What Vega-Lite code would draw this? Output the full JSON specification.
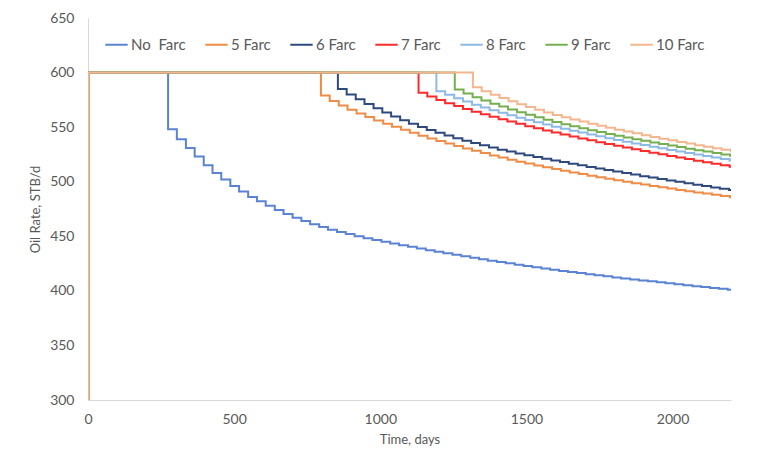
{
  "$schema": "https://vega.github.io/schema/vega-lite/v6.json",
  "width": 643,
  "height": 382,
  "autosize": {"type": "none"},
  "padding": {"left": 88, "top": 18, "right": 36, "bottom": 54},
  "background": "white",
  "config": {
    "view": {"stroke": null},
    "font": "Lato"
  },
  "data": {"values": [
    {"series":"No\u00a0 Farc","day":0,"rate":300},{"series":"No\u00a0 Farc","day":2,"rate":600},
    {"series":"No\u00a0 Farc","day":274,"rate":548},{"series":"No\u00a0 Farc","day":304,"rate":539},{"series":"No\u00a0 Farc","day":335,"rate":531},{"series":"No\u00a0 Farc","day":365,"rate":523},{"series":"No\u00a0 Farc","day":396,"rate":515},{"series":"No\u00a0 Farc","day":426,"rate":508},{"series":"No\u00a0 Farc","day":456,"rate":502},{"series":"No\u00a0 Farc","day":487,"rate":496},{"series":"No\u00a0 Farc","day":517,"rate":491},{"series":"No\u00a0 Farc","day":548,"rate":486},{"series":"No\u00a0 Farc","day":578,"rate":482},{"series":"No\u00a0 Farc","day":608,"rate":478},{"series":"No\u00a0 Farc","day":639,"rate":474},{"series":"No\u00a0 Farc","day":669,"rate":470.5},{"series":"No\u00a0 Farc","day":700,"rate":467},{"series":"No\u00a0 Farc","day":730,"rate":464},{"series":"No\u00a0 Farc","day":760,"rate":461},{"series":"No\u00a0 Farc","day":791,"rate":458.5},{"series":"No\u00a0 Farc","day":821,"rate":456},{"series":"No\u00a0 Farc","day":852,"rate":454},{"series":"No\u00a0 Farc","day":882,"rate":452},{"series":"No\u00a0 Farc","day":912,"rate":450},{"series":"No\u00a0 Farc","day":943,"rate":448.2},{"series":"No\u00a0 Farc","day":973,"rate":446.5},{"series":"No\u00a0 Farc","day":1004,"rate":445},{"series":"No\u00a0 Farc","day":1034,"rate":443.4},{"series":"No\u00a0 Farc","day":1064,"rate":441.8},{"series":"No\u00a0 Farc","day":1095,"rate":440.3},{"series":"No\u00a0 Farc","day":1125,"rate":438.8},{"series":"No\u00a0 Farc","day":1156,"rate":437.3},{"series":"No\u00a0 Farc","day":1186,"rate":435.8},{"series":"No\u00a0 Farc","day":1216,"rate":434.4},{"series":"No\u00a0 Farc","day":1247,"rate":433},{"series":"No\u00a0 Farc","day":1277,"rate":431.6},{"series":"No\u00a0 Farc","day":1308,"rate":430.3},{"series":"No\u00a0 Farc","day":1338,"rate":429},{"series":"No\u00a0 Farc","day":1368,"rate":427.7},{"series":"No\u00a0 Farc","day":1399,"rate":426.4},{"series":"No\u00a0 Farc","day":1429,"rate":425.2},{"series":"No\u00a0 Farc","day":1460,"rate":424},{"series":"No\u00a0 Farc","day":1490,"rate":422.8},{"series":"No\u00a0 Farc","day":1520,"rate":421.6},{"series":"No\u00a0 Farc","day":1551,"rate":420.5},{"series":"No\u00a0 Farc","day":1581,"rate":419.4},{"series":"No\u00a0 Farc","day":1612,"rate":418.3},{"series":"No\u00a0 Farc","day":1642,"rate":417.3},{"series":"No\u00a0 Farc","day":1672,"rate":416.3},{"series":"No\u00a0 Farc","day":1703,"rate":415.3},{"series":"No\u00a0 Farc","day":1733,"rate":414.3},{"series":"No\u00a0 Farc","day":1764,"rate":413.3},{"series":"No\u00a0 Farc","day":1794,"rate":412.3},{"series":"No\u00a0 Farc","day":1824,"rate":411.4},{"series":"No\u00a0 Farc","day":1855,"rate":410.5},{"series":"No\u00a0 Farc","day":1885,"rate":409.6},{"series":"No\u00a0 Farc","day":1916,"rate":408.7},{"series":"No\u00a0 Farc","day":1946,"rate":407.8},{"series":"No\u00a0 Farc","day":1976,"rate":406.9},{"series":"No\u00a0 Farc","day":2007,"rate":406},{"series":"No\u00a0 Farc","day":2037,"rate":405.1},{"series":"No\u00a0 Farc","day":2068,"rate":404.3},{"series":"No\u00a0 Farc","day":2098,"rate":403.5},{"series":"No\u00a0 Farc","day":2128,"rate":402.7},{"series":"No\u00a0 Farc","day":2159,"rate":401.9},{"series":"No\u00a0 Farc","day":2189,"rate":401.1},{"series":"No\u00a0 Farc","day":2200,"rate":401.1},

    {"series":"5 Farc","day":0,"rate":300},{"series":"5 Farc","day":2,"rate":600},
    {"series":"5 Farc","day":797,"rate":579},{"series":"5 Farc","day":827,"rate":574},{"series":"5 Farc","day":858,"rate":569.8},{"series":"5 Farc","day":888,"rate":566},{"series":"5 Farc","day":919,"rate":562.5},{"series":"5 Farc","day":949,"rate":559.2},{"series":"5 Farc","day":979,"rate":556.1},{"series":"5 Farc","day":1010,"rate":553.2},{"series":"5 Farc","day":1040,"rate":550.4},{"series":"5 Farc","day":1071,"rate":547.5},{"series":"5 Farc","day":1101,"rate":544.8},{"series":"5 Farc","day":1131,"rate":542.2},{"series":"5 Farc","day":1162,"rate":539.7},{"series":"5 Farc","day":1192,"rate":537.3},{"series":"5 Farc","day":1223,"rate":535},{"series":"5 Farc","day":1253,"rate":532.7},{"series":"5 Farc","day":1283,"rate":530.5},{"series":"5 Farc","day":1314,"rate":528.3},{"series":"5 Farc","day":1344,"rate":526.2},{"series":"5 Farc","day":1375,"rate":524.1},{"series":"5 Farc","day":1405,"rate":522.1},{"series":"5 Farc","day":1436,"rate":520.2},{"series":"5 Farc","day":1466,"rate":518.4},{"series":"5 Farc","day":1496,"rate":516.6},{"series":"5 Farc","day":1527,"rate":514.9},{"series":"5 Farc","day":1557,"rate":513.2},{"series":"5 Farc","day":1588,"rate":511.6},{"series":"5 Farc","day":1618,"rate":510},{"series":"5 Farc","day":1648,"rate":508.5},{"series":"5 Farc","day":1679,"rate":507},{"series":"5 Farc","day":1709,"rate":505.5},{"series":"5 Farc","day":1740,"rate":504.1},{"series":"5 Farc","day":1770,"rate":502.7},{"series":"5 Farc","day":1800,"rate":501.3},{"series":"5 Farc","day":1831,"rate":500},{"series":"5 Farc","day":1861,"rate":498.7},{"series":"5 Farc","day":1892,"rate":497.4},{"series":"5 Farc","day":1922,"rate":496.1},{"series":"5 Farc","day":1952,"rate":494.9},{"series":"5 Farc","day":1983,"rate":493.7},{"series":"5 Farc","day":2013,"rate":492.5},{"series":"5 Farc","day":2044,"rate":491.3},{"series":"5 Farc","day":2074,"rate":490.2},{"series":"5 Farc","day":2104,"rate":489.1},{"series":"5 Farc","day":2135,"rate":488},{"series":"5 Farc","day":2165,"rate":486.9},{"series":"5 Farc","day":2196,"rate":485.8},{"series":"5 Farc","day":2200,"rate":485.8},

    {"series":"6 Farc","day":0,"rate":300},{"series":"6 Farc","day":2,"rate":600},
    {"series":"6 Farc","day":855,"rate":585},{"series":"6 Farc","day":885,"rate":580},{"series":"6 Farc","day":916,"rate":575.5},{"series":"6 Farc","day":946,"rate":571.2},{"series":"6 Farc","day":977,"rate":567.2},{"series":"6 Farc","day":1007,"rate":563.4},{"series":"6 Farc","day":1037,"rate":559.8},{"series":"6 Farc","day":1068,"rate":556.4},{"series":"6 Farc","day":1098,"rate":553.2},{"series":"6 Farc","day":1129,"rate":550.2},{"series":"6 Farc","day":1159,"rate":547.4},{"series":"6 Farc","day":1189,"rate":544.8},{"series":"6 Farc","day":1220,"rate":542.3},{"series":"6 Farc","day":1250,"rate":539.9},{"series":"6 Farc","day":1281,"rate":537.6},{"series":"6 Farc","day":1311,"rate":535.4},{"series":"6 Farc","day":1341,"rate":533.3},{"series":"6 Farc","day":1372,"rate":531.3},{"series":"6 Farc","day":1402,"rate":529.4},{"series":"6 Farc","day":1433,"rate":527.6},{"series":"6 Farc","day":1463,"rate":525.9},{"series":"6 Farc","day":1493,"rate":524.2},{"series":"6 Farc","day":1524,"rate":522.6},{"series":"6 Farc","day":1554,"rate":521},{"series":"6 Farc","day":1585,"rate":519.5},{"series":"6 Farc","day":1615,"rate":518},{"series":"6 Farc","day":1645,"rate":516.5},{"series":"6 Farc","day":1676,"rate":515},{"series":"6 Farc","day":1706,"rate":513.5},{"series":"6 Farc","day":1737,"rate":512.1},{"series":"6 Farc","day":1767,"rate":510.7},{"series":"6 Farc","day":1797,"rate":509.3},{"series":"6 Farc","day":1828,"rate":507.9},{"series":"6 Farc","day":1858,"rate":506.5},{"series":"6 Farc","day":1889,"rate":505.1},{"series":"6 Farc","day":1919,"rate":503.8},{"series":"6 Farc","day":1949,"rate":502.5},{"series":"6 Farc","day":1980,"rate":501.2},{"series":"6 Farc","day":2010,"rate":499.9},{"series":"6 Farc","day":2041,"rate":498.6},{"series":"6 Farc","day":2071,"rate":497.3},{"series":"6 Farc","day":2101,"rate":496},{"series":"6 Farc","day":2132,"rate":494.7},{"series":"6 Farc","day":2162,"rate":493.5},{"series":"6 Farc","day":2193,"rate":492.3},{"series":"6 Farc","day":2200,"rate":492.3},

    {"series":"7 Farc","day":0,"rate":300},{"series":"7 Farc","day":2,"rate":600},
    {"series":"7 Farc","day":1131,"rate":581.4},{"series":"7 Farc","day":1161,"rate":578},{"series":"7 Farc","day":1192,"rate":574.9},{"series":"7 Farc","day":1222,"rate":572},{"series":"7 Farc","day":1253,"rate":569.3},{"series":"7 Farc","day":1283,"rate":566.7},{"series":"7 Farc","day":1313,"rate":564.2},{"series":"7 Farc","day":1344,"rate":561.8},{"series":"7 Farc","day":1374,"rate":559.5},{"series":"7 Farc","day":1405,"rate":557.3},{"series":"7 Farc","day":1435,"rate":555.1},{"series":"7 Farc","day":1465,"rate":553},{"series":"7 Farc","day":1496,"rate":550.9},{"series":"7 Farc","day":1526,"rate":548.9},{"series":"7 Farc","day":1557,"rate":546.9},{"series":"7 Farc","day":1587,"rate":545},{"series":"7 Farc","day":1617,"rate":543.2},{"series":"7 Farc","day":1648,"rate":541.4},{"series":"7 Farc","day":1678,"rate":539.6},{"series":"7 Farc","day":1709,"rate":537.9},{"series":"7 Farc","day":1739,"rate":536.2},{"series":"7 Farc","day":1769,"rate":534.5},{"series":"7 Farc","day":1800,"rate":532.9},{"series":"7 Farc","day":1830,"rate":531.3},{"series":"7 Farc","day":1861,"rate":529.7},{"series":"7 Farc","day":1891,"rate":528.1},{"series":"7 Farc","day":1921,"rate":526.6},{"series":"7 Farc","day":1952,"rate":525.1},{"series":"7 Farc","day":1982,"rate":523.6},{"series":"7 Farc","day":2013,"rate":522.1},{"series":"7 Farc","day":2043,"rate":520.7},{"series":"7 Farc","day":2073,"rate":519.3},{"series":"7 Farc","day":2104,"rate":517.9},{"series":"7 Farc","day":2134,"rate":516.5},{"series":"7 Farc","day":2165,"rate":515.1},{"series":"7 Farc","day":2195,"rate":513.8},{"series":"7 Farc","day":2200,"rate":513.8},

    {"series":"8 Farc","day":0,"rate":300},{"series":"8 Farc","day":2,"rate":600},
    {"series":"8 Farc","day":1192,"rate":583},{"series":"8 Farc","day":1222,"rate":579.6},{"series":"8 Farc","day":1253,"rate":576.4},{"series":"8 Farc","day":1283,"rate":573.4},{"series":"8 Farc","day":1314,"rate":570.6},{"series":"8 Farc","day":1344,"rate":568},{"series":"8 Farc","day":1374,"rate":565.5},{"series":"8 Farc","day":1405,"rate":563.1},{"series":"8 Farc","day":1435,"rate":560.8},{"series":"8 Farc","day":1466,"rate":558.6},{"series":"8 Farc","day":1496,"rate":556.5},{"series":"8 Farc","day":1526,"rate":554.4},{"series":"8 Farc","day":1557,"rate":552.4},{"series":"8 Farc","day":1587,"rate":550.4},{"series":"8 Farc","day":1618,"rate":548.6},{"series":"8 Farc","day":1648,"rate":546.8},{"series":"8 Farc","day":1678,"rate":545},{"series":"8 Farc","day":1709,"rate":543.3},{"series":"8 Farc","day":1739,"rate":541.6},{"series":"8 Farc","day":1770,"rate":539.9},{"series":"8 Farc","day":1800,"rate":538.3},{"series":"8 Farc","day":1830,"rate":536.7},{"series":"8 Farc","day":1861,"rate":535.1},{"series":"8 Farc","day":1891,"rate":533.6},{"series":"8 Farc","day":1922,"rate":532.1},{"series":"8 Farc","day":1952,"rate":530.6},{"series":"8 Farc","day":1982,"rate":529.1},{"series":"8 Farc","day":2013,"rate":527.7},{"series":"8 Farc","day":2043,"rate":526.3},{"series":"8 Farc","day":2074,"rate":524.9},{"series":"8 Farc","day":2104,"rate":523.5},{"series":"8 Farc","day":2134,"rate":522.1},{"series":"8 Farc","day":2165,"rate":520.8},{"series":"8 Farc","day":2195,"rate":519.5},{"series":"8 Farc","day":2200,"rate":519.5},

    {"series":"9 Farc","day":0,"rate":300},{"series":"9 Farc","day":2,"rate":600},
    {"series":"9 Farc","day":1255,"rate":584.4},{"series":"9 Farc","day":1285,"rate":580.8},{"series":"9 Farc","day":1316,"rate":577.5},{"series":"9 Farc","day":1346,"rate":574.4},{"series":"9 Farc","day":1377,"rate":571.5},{"series":"9 Farc","day":1407,"rate":568.8},{"series":"9 Farc","day":1437,"rate":566.2},{"series":"9 Farc","day":1468,"rate":563.7},{"series":"9 Farc","day":1498,"rate":561.3},{"series":"9 Farc","day":1529,"rate":559},{"series":"9 Farc","day":1559,"rate":556.8},{"series":"9 Farc","day":1589,"rate":554.6},{"series":"9 Farc","day":1620,"rate":552.7},{"series":"9 Farc","day":1650,"rate":550.8},{"series":"9 Farc","day":1681,"rate":549},{"series":"9 Farc","day":1711,"rate":547.2},{"series":"9 Farc","day":1741,"rate":545.5},{"series":"9 Farc","day":1772,"rate":543.8},{"series":"9 Farc","day":1802,"rate":542.2},{"series":"9 Farc","day":1833,"rate":540.6},{"series":"9 Farc","day":1863,"rate":539},{"series":"9 Farc","day":1893,"rate":537.5},{"series":"9 Farc","day":1924,"rate":536},{"series":"9 Farc","day":1954,"rate":534.5},{"series":"9 Farc","day":1985,"rate":533.1},{"series":"9 Farc","day":2015,"rate":531.7},{"series":"9 Farc","day":2045,"rate":530.3},{"series":"9 Farc","day":2076,"rate":528.9},{"series":"9 Farc","day":2106,"rate":527.6},{"series":"9 Farc","day":2137,"rate":526.3},{"series":"9 Farc","day":2167,"rate":525},{"series":"9 Farc","day":2197,"rate":523.8},{"series":"9 Farc","day":2200,"rate":523.8},

    {"series":"10 Farc","day":0,"rate":300},{"series":"10 Farc","day":2,"rate":600},
    {"series":"10 Farc","day":1317,"rate":586.6},{"series":"10 Farc","day":1347,"rate":583},{"series":"10 Farc","day":1378,"rate":579.7},{"series":"10 Farc","day":1408,"rate":576.6},{"series":"10 Farc","day":1439,"rate":573.7},{"series":"10 Farc","day":1469,"rate":571},{"series":"10 Farc","day":1499,"rate":568.4},{"series":"10 Farc","day":1530,"rate":565.9},{"series":"10 Farc","day":1560,"rate":563.5},{"series":"10 Farc","day":1591,"rate":561.2},{"series":"10 Farc","day":1621,"rate":559.1},{"series":"10 Farc","day":1651,"rate":557.1},{"series":"10 Farc","day":1682,"rate":555.1},{"series":"10 Farc","day":1712,"rate":553.2},{"series":"10 Farc","day":1743,"rate":551.3},{"series":"10 Farc","day":1773,"rate":549.5},{"series":"10 Farc","day":1803,"rate":547.7},{"series":"10 Farc","day":1834,"rate":546},{"series":"10 Farc","day":1864,"rate":544.3},{"series":"10 Farc","day":1895,"rate":542.6},{"series":"10 Farc","day":1925,"rate":541},{"series":"10 Farc","day":1955,"rate":539.4},{"series":"10 Farc","day":1986,"rate":537.9},{"series":"10 Farc","day":2016,"rate":536.4},{"series":"10 Farc","day":2047,"rate":534.9},{"series":"10 Farc","day":2077,"rate":533.4},{"series":"10 Farc","day":2107,"rate":532},{"series":"10 Farc","day":2138,"rate":530.6},{"series":"10 Farc","day":2168,"rate":529.3},{"series":"10 Farc","day":2199,"rate":528},{"series":"10 Farc","day":2200,"rate":528}
  ]},
  "mark": {"type": "line", "interpolate": "step-after", "strokeWidth": 2, "clip": true},
  "encoding": {
    "x": {
      "field": "day", "type": "quantitative",
      "scale": {"domain": [0, 2200], "nice": false, "zero": false},
      "axis": {
        "title": "Time, days", "values": [0, 500, 1000, 1500, 2000], "format": "d",
        "grid": false, "ticks": false, "tickSize": 0,
        "domainColor": "#D9D9D9", "domainWidth": 1,
        "labelFont": "Lato", "labelFontSize": 14, "labelColor": "#595959", "labelPadding": 12,
        "labelFlush": false,
        "titleFont": "Lato", "titleFontSize": 13, "titleFontWeight": "normal", "titleColor": "#595959", "titlePadding": 7
      }
    },
    "y": {
      "field": "rate", "type": "quantitative",
      "scale": {"domain": [300, 650], "nice": false, "zero": false},
      "axis": {
        "title": "Oil Rate, STB/d", "values": [300, 350, 400, 450, 500, 550, 600, 650], "format": "d",
        "grid": false, "ticks": false, "tickSize": 0,
        "domainColor": "#D9D9D9", "domainWidth": 1,
        "labelFont": "Lato", "labelFontSize": 14, "labelColor": "#595959", "labelPadding": 14,
        "labelFlush": false,
        "titleFont": "Lato", "titleFontSize": 13, "titleFontWeight": "normal", "titleColor": "#595959", "titlePadding": 7
      }
    },
    "color": {
      "field": "series", "type": "nominal",
      "scale": {
        "domain": ["No\u00a0 Farc", "5 Farc", "6 Farc", "7 Farc", "8 Farc", "9 Farc", "10 Farc"],
        "range": ["#5A83D4", "#F08C45", "#2E4A7D", "#FF2A2A", "#8DB9E6", "#74B04F", "#F4B68E"]
      },
      "legend": {
        "title": null, "orient": "none", "legendX": 16, "legendY": 14,
        "direction": "horizontal", "columns": 7, "columnPadding": 15, "padding": 0,
        "symbolType": "stroke", "symbolSize": 500, "symbolStrokeWidth": 2,
        "labelFont": "Lato", "labelFontSize": 15, "labelColor": "#595959", "labelOffset": 2
      }
    }
  }
}
